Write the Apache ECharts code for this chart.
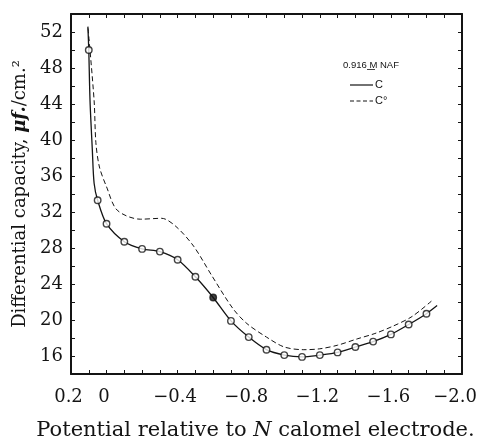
<!DOCTYPE html>
<html>
<head>
<meta charset="utf-8">
<script src="https://cdn.jsdelivr.net/npm/echarts@6/dist/echarts.min.js"></script>
<style>
html,body{margin:0;padding:0;background:#fff;}
#chart{width:478px;height:439px;}
</style>
</head>
<body>
<div id="chart"></div>
<script>
// ---- data ----
// measured points of C (markers)
const markerPotential = [0.1, 0.05, 0, -0.1, -0.2, -0.3, -0.4, -0.5, -0.6, -0.7, -0.8, -0.9, -1.0, -1.1, -1.2, -1.3, -1.4, -1.5, -1.6, -1.7, -1.8];
const markerCapacity  = [50.0, 33.3, 30.7, 28.7, 27.9, 27.6, 26.7, 24.8, 22.5, 19.9, 18.1, 16.7, 16.1, 15.9, 16.1, 16.4, 17.0, 17.6, 18.4, 19.5, 20.7];
// drawn curve C (solid)
const cCurvePotential = [0.105, 0.1, 0.093, 0.08, 0.07, 0.05, 0, -0.1, -0.2, -0.3, -0.4, -0.5, -0.6, -0.7, -0.8, -0.9, -1.0, -1.1, -1.2, -1.3, -1.4, -1.5, -1.6, -1.7, -1.8, -1.86];
const cCurveCapacity  = [52.6, 50.0, 44.4, 38.9, 35.2, 33.3, 30.7, 28.7, 27.9, 27.6, 26.7, 24.8, 22.5, 19.9, 18.1, 16.7, 16.1, 15.9, 16.1, 16.4, 17.0, 17.6, 18.4, 19.5, 20.7, 21.6];
// drawn curve C° (dashed)
const c0Potential = [0.104, 0.07, 0.06, 0.04, 0.0, -0.06, -0.19, -0.31, -0.39, -0.49, -0.59, -0.71, -0.79, -0.9, -1.0, -1.11, -1.2, -1.3, -1.41, -1.51, -1.61, -1.72, -1.84];
const c0Capacity  = [52.4, 44.4, 39.7, 37.0, 34.8, 32.2, 31.2, 31.3, 30.4, 28.2, 25.0, 21.3, 19.6, 18.1, 17.0, 16.7, 16.8, 17.2, 17.9, 18.5, 19.3, 20.4, 22.3];
// tick labels
const xTickLabels = [0.2, 0, -0.4, -0.8, -1.2, -1.6, -2.0];
const yTickLabels = [16, 20, 24, 28, 32, 36, 40, 44, 48, 52];
const filledMarkers = [-0.6];

const zip = (a, b) => a.map((v, i) => [v, b[i]]);
const SERIF = '"DejaVu Serif", serif';
const INK = '#141414';

function xFmt(v) {
  const r = Math.round(v * 10) / 10;
  if (!xTickLabels.some(t => Math.abs(t - r) < 1e-6)) return '';
  if (r === 0) return '{n|0}';
  const s = (r < 0 ? '\u2212' : '') + Math.abs(r).toFixed(1);
  return r <= -1.95 ? '{e|' + s + '}' : '{n|' + s + '}';
}
function yFmt(v) {
  const r = Math.round(v);
  return yTickLabels.indexOf(r) >= 0 ? String(r) : '';
}

const axisLineStyle = { onZero: false, lineStyle: { color: INK, width: 2 } };
const tickStyle = { inside: true, length: 4, lineStyle: { color: INK, width: 1 } };

const xBase = { type: 'value', min: -2.0, max: 0.2, interval: 0.1, inverse: true, splitLine: { show: false } };
const yBase = { type: 'value', min: 14, max: 54, interval: 2, splitLine: { show: false } };
const lblFont = { fontFamily: SERIF, fontSize: 18, color: INK };

const chart = echarts.init(document.getElementById('chart'));
chart.setOption({
  backgroundColor: '#fff',
  animation: false,
  grid: { left: 71, right: 16, top: 14, bottom: 65, containLabel: false, outerBoundsMode: 'none' },
  xAxis: [
    Object.assign({}, xBase, {
      position: 'bottom',
      axisLine: axisLineStyle, axisTick: tickStyle,
      axisLabel: { formatter: xFmt, fontFamily: SERIF, fontSize: 18, color: INK, margin: 14, showMinLabel: true, showMaxLabel: true,
        rich: {
          n: Object.assign({ padding: [0, 5, 0, 0] }, lblFont),
          e: Object.assign({ padding: [0, 14, 0, 0] }, lblFont)
        } },
      name: 'Potential relative to {i|N} calomel electrode.',
      nameLocation: 'middle', nameGap: 46,
      nameTextStyle: { fontFamily: SERIF, fontSize: 21, color: INK, padding: [0, 22, 0, 0],
        rich: { i: { fontFamily: SERIF, fontSize: 21, fontStyle: 'italic', color: INK } } }
    }),
    Object.assign({}, xBase, {
      position: 'top',
      axisLine: axisLineStyle, axisTick: tickStyle, axisLabel: { show: false }
    })
  ],
  yAxis: [
    Object.assign({}, yBase, {
      position: 'left',
      axisLine: axisLineStyle, axisTick: tickStyle,
      axisLabel: { formatter: yFmt, fontFamily: SERIF, fontSize: 18, color: INK, margin: 8 },
      name: 'Differential capacity, {i|\u03bcf.}/cm.\u00b2',
      nameLocation: 'middle', nameGap: 33,
      nameTextStyle: { fontFamily: SERIF, fontSize: 18, color: INK,
        rich: { i: { fontFamily: SERIF, fontSize: 18, fontStyle: 'italic', fontWeight: 'bold', color: INK } } }
    }),
    Object.assign({}, yBase, {
      position: 'right',
      axisLine: axisLineStyle, axisTick: tickStyle, axisLabel: { show: false }
    })
  ],
  series: [
    {
      type: 'line', name: 'C', data: zip(cCurvePotential, cCurveCapacity),
      smooth: 0.3, showSymbol: false, symbol: 'none',
      lineStyle: { color: INK, width: 1.3 }, z: 3
    },
    {
      type: 'line', name: 'C°', data: zip(c0Potential, c0Capacity),
      smooth: 0.3, showSymbol: false, symbol: 'none',
      lineStyle: { color: INK, width: 1, type: [5, 3] }, z: 2
    },
    {
      type: 'scatter', name: 'C points',
      data: zip(markerPotential, markerCapacity).map(p => ({
        value: p,
        itemStyle: filledMarkers.indexOf(p[0]) >= 0 ? { color: INK } : undefined
      })),
      symbol: 'circle', symbolSize: 6.5,
      itemStyle: { color: '#fff', borderColor: INK, borderWidth: 1.4 }, z: 4
    }
  ],
  graphic: [
    { type: 'text', left: 343, top: 60, style: { text: '0.916 M NAF', font: '9.5px "Liberation Sans", sans-serif', fill: INK } },
    { type: 'line', shape: { x1: 367, y1: 69.5, x2: 375, y2: 69.5 }, style: { stroke: INK, lineWidth: 0.8 } },
    { type: 'line', shape: { x1: 350, y1: 85, x2: 373, y2: 85 }, style: { stroke: INK, lineWidth: 1.2 } },
    { type: 'text', left: 375, top: 79, style: { text: 'C', font: '11px "Liberation Sans", sans-serif', fill: INK } },
    { type: 'line', shape: { x1: 350, y1: 101, x2: 373, y2: 101 }, style: { stroke: INK, lineWidth: 1, lineDash: [4, 2.5] } },
    { type: 'text', left: 375, top: 95, style: { text: 'C\u00b0', font: '11px "Liberation Sans", sans-serif', fill: INK } }
  ]
});
</script>
</body>
</html>
